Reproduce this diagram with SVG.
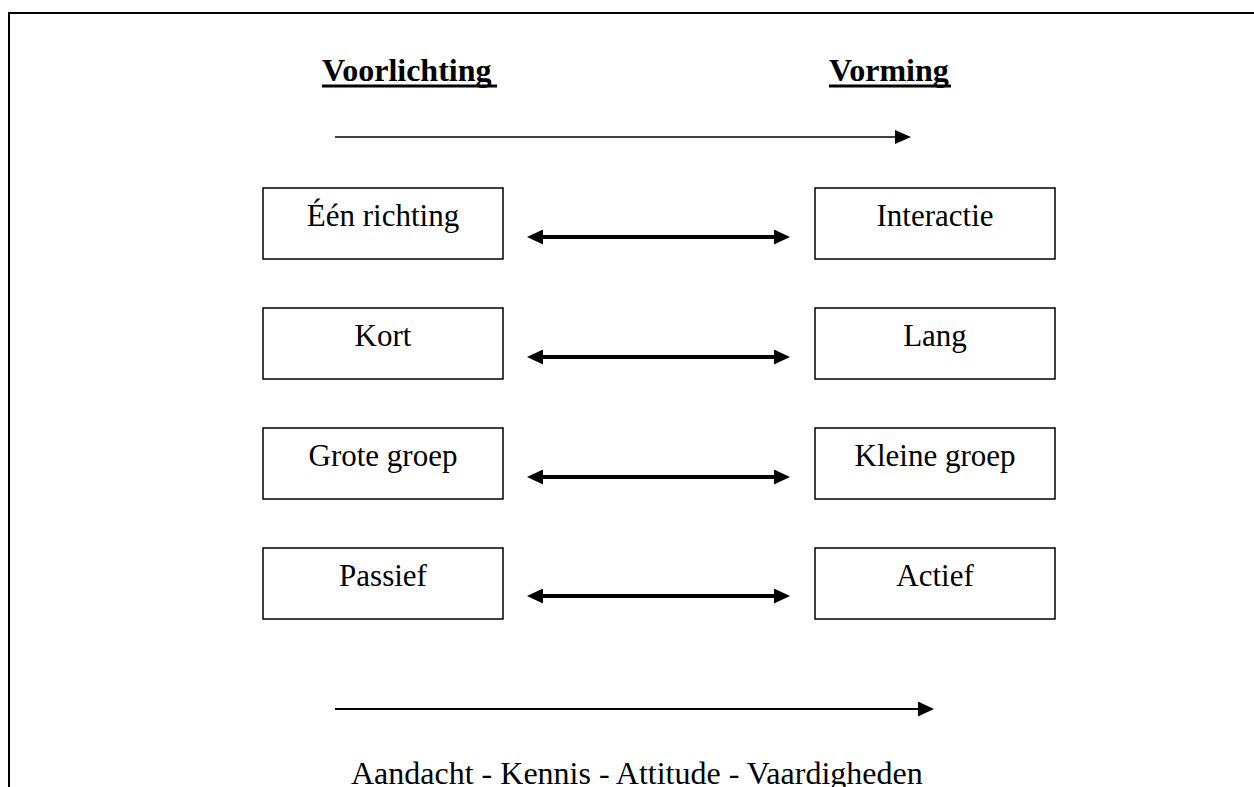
<svg xmlns="http://www.w3.org/2000/svg" width="1254" height="787" viewBox="0 0 1254 787">
  <style>
    .frame { fill: none; stroke: #000; stroke-width: 2; }
    .box { fill: #fff; stroke: #000; stroke-width: 1.5; }
    .label { font-family: "Liberation Serif", "Times New Roman", serif; font-size: 31px; fill: #000; text-anchor: middle; }
    .title { font-family: "Liberation Serif", "Times New Roman", serif; font-size: 32px; font-weight: bold; fill: #000; }
    .uline { stroke: #000; stroke-width: 3; }
    .thin { stroke: #000; stroke-width: 1.5; fill: none; }
    .thick { stroke: #000; stroke-width: 4; fill: none; }
    .mid { stroke: #000; stroke-width: 2; fill: none; }
    .footer { font-family: "Liberation Serif", "Times New Roman", serif; font-size: 32px; fill: #000; }
  </style>
  <defs>
    <marker id="headSmall" markerUnits="userSpaceOnUse" markerWidth="16" markerHeight="14" viewBox="0 0 16 14" refX="2" refY="7" orient="auto">
      <path d="M0,0 L16,7 L0,14 z" fill="#000"/>
    </marker>
    <marker id="headBig" markerUnits="userSpaceOnUse" markerWidth="16" markerHeight="15" viewBox="0 0 16 15" refX="2" refY="7.5" orient="auto-start-reverse">
      <path d="M0,0 L16,7.5 L0,15 z" fill="#000"/>
    </marker>
  </defs>

  <rect width="1254" height="787" fill="#fff"/>

  <!-- outer frame: top and left edges only -->
  <path class="frame" d="M9,787 L9,13 L1254,13"/>

  <!-- column headings -->
  <g id="heading-voorlichting">
    <text class="title" x="322" y="81">Voorlichting</text>
    <line class="uline" x1="322" y1="86" x2="497" y2="86"/>
  </g>
  <g id="heading-vorming">
    <text class="title" x="829" y="81">Vorming</text>
    <line class="uline" x1="829" y1="86" x2="951" y2="86"/>
  </g>

  <!-- left column -->
  <g id="een-richting">
    <rect class="box" x="263" y="188" width="240" height="71"/>
    <text class="label" x="383" y="226">Één richting</text>
  </g>
  <g id="kort">
    <rect class="box" x="263" y="308" width="240" height="71"/>
    <text class="label" x="383" y="346">Kort</text>
  </g>
  <g id="grote-groep">
    <rect class="box" x="263" y="428" width="240" height="71"/>
    <text class="label" x="383" y="466">Grote groep</text>
  </g>
  <g id="passief">
    <rect class="box" x="263" y="548" width="240" height="71"/>
    <text class="label" x="383" y="586">Passief</text>
  </g>

  <!-- right column -->
  <g id="interactie">
    <rect class="box" x="815" y="188" width="240" height="71"/>
    <text class="label" x="935" y="226">Interactie</text>
  </g>
  <g id="lang">
    <rect class="box" x="815" y="308" width="240" height="71"/>
    <text class="label" x="935" y="346">Lang</text>
  </g>
  <g id="kleine-groep">
    <rect class="box" x="815" y="428" width="240" height="71"/>
    <text class="label" x="935" y="466">Kleine groep</text>
  </g>
  <g id="actief">
    <rect class="box" x="815" y="548" width="240" height="71"/>
    <text class="label" x="935" y="586">Actief</text>
  </g>

  <!-- connectors -->
  <g id="connectors">
    <line class="thin" x1="335" y1="137" x2="897" y2="137" marker-end="url(#headSmall)"/>
    <line class="thick" x1="541" y1="237" x2="776" y2="237" marker-start="url(#headBig)" marker-end="url(#headBig)"/>
    <line class="thick" x1="541" y1="357" x2="776" y2="357" marker-start="url(#headBig)" marker-end="url(#headBig)"/>
    <line class="thick" x1="541" y1="477" x2="776" y2="477" marker-start="url(#headBig)" marker-end="url(#headBig)"/>
    <line class="thick" x1="541" y1="596" x2="776" y2="596" marker-start="url(#headBig)" marker-end="url(#headBig)"/>
    <line class="mid" x1="335" y1="709" x2="920" y2="709" marker-end="url(#headBig)"/>
  </g>

  <g id="footer">
    <text class="footer" x="351" y="784">Aandacht - Kennis - Attitude - Vaardigheden</text>
  </g>
</svg>
